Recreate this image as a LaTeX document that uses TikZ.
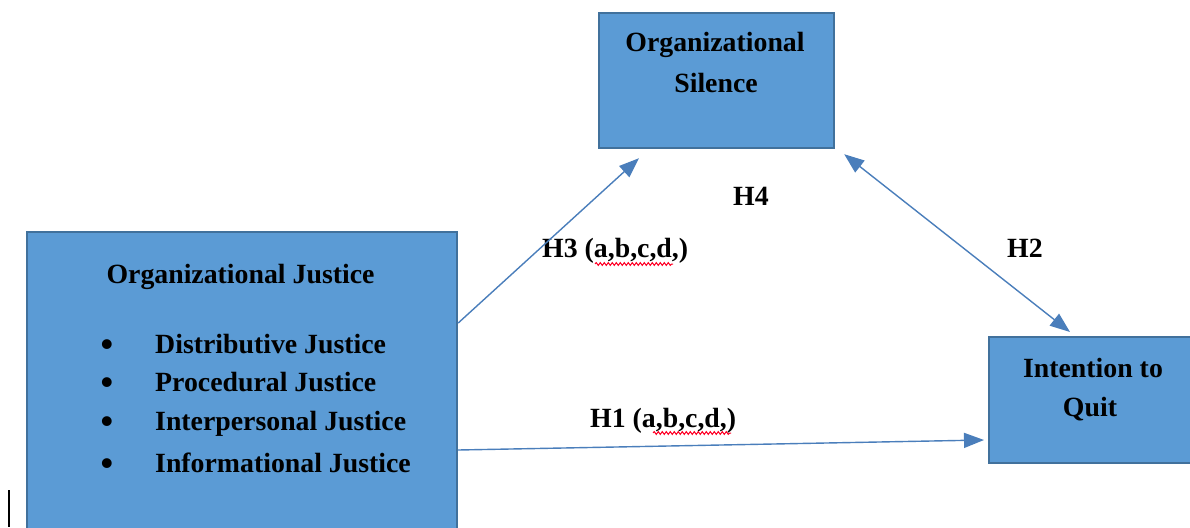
\documentclass[tikz,border=0pt]{standalone}
\usepackage{fontspec}
\setmainfont{Liberation Serif}
\usetikzlibrary{arrows.meta,decorations.pathmorphing,calc}
\definecolor{boxfill}{HTML}{5B9BD5}
\definecolor{boxline}{HTML}{41719C}
\definecolor{arrowc}{HTML}{4A7EBB}
\begin{document}
\begin{tikzpicture}[x=1pt,y=-1pt,
  box/.style={draw=boxline, fill=boxfill, line width=2.2pt, rectangle, inner sep=0pt},
  lbl/.style={font=\fontsize{27.8}{32}\selectfont\bfseries, inner sep=0pt, text=black},
  bul/.style={font=\fontsize{36}{32}\selectfont\bfseries, inner sep=0pt, text=black},
  conn/.style={draw=arrowc, line width=1.4pt, -{Triangle[length=20pt,width=15pt]}},
  dconn/.style={draw=arrowc, line width=1.4pt, {Triangle[length=20pt,width=15pt]}-{Triangle[length=20pt,width=15pt]}},
  squig/.style={draw=red!85!magenta, line width=1pt, decorate, decoration={snake, amplitude=1.4pt, segment length=4pt}}]
\useasboundingbox (0,0) rectangle (1190,527);
\clip (0,0) rectangle (1190,527);
% boxes
\node (oj) [box, anchor=north west, minimum width=430pt, minimum height=330pt] at (26,231) {};
\node (os) [box, anchor=north west, minimum width=235pt, minimum height=135pt] at (598,12) {};
\node (iq) [box, anchor=north west, minimum width=206pt, minimum height=126pt] at (988,336) {};
% texts in left box
\node (ojt) [lbl, anchor=base] at (240.5,283) {Organizational Justice};
\node (b1) [bul, anchor=base] at (107,356) {\textbullet};
\node (b2) [bul, anchor=base] at (107,394) {\textbullet};
\node (b3) [bul, anchor=base] at (107,433) {\textbullet};
\node (b4) [bul, anchor=base] at (107,475) {\textbullet};
\node (i1) [lbl, anchor=base west] at (155,353) {Distributive Justice};
\node (i2) [lbl, anchor=base west] at (155,391) {Procedural Justice};
\node (i3) [lbl, anchor=base west] at (155,430) {Interpersonal Justice};
\node (i4) [lbl, anchor=base west] at (155,472) {Informational Justice};
% silence
\node (ost1) [lbl, anchor=base] at (715,52) {Organizational};
\node (ost2) [lbl, anchor=base] at (716,92) {Silence};
% quit
\node (iqt1) [lbl, anchor=base] at (1093,377) {Intention to};
\node (iqt2) [lbl, anchor=base] at (1090,416) {Quit};
% labels
\node (h4) [lbl, anchor=base] at (751,205) {H4};
\node (h3) [lbl, anchor=base west] at (542,257) {H3 (a,b,c,d,)};
\node (h2) [lbl, anchor=base west] at (1007,257) {H2};
\node (h1) [lbl, anchor=base west] at (590,427) {H1 (a,b,c,d,)};
% connectors
\draw[conn] ($(oj.north east)+(0,92)$) -- ($(os.south west)+(41,9)$);
\draw[dconn] ($(os.south east)+(9,5)$) -- ($(iq.north west)+(82,-4)$);
\draw[conn] ($(oj.north east)+(0,219)$) -- ($(iq.north west)+(-4,104)$);
% spell-check underlines
\draw[squig] (595,264) -- (673,264);
\draw[squig] (653,433) -- (731,433);
% cursor
\draw[black, line width=1.5pt] (9,490) -- (9,527);
\end{tikzpicture}
\end{document}
